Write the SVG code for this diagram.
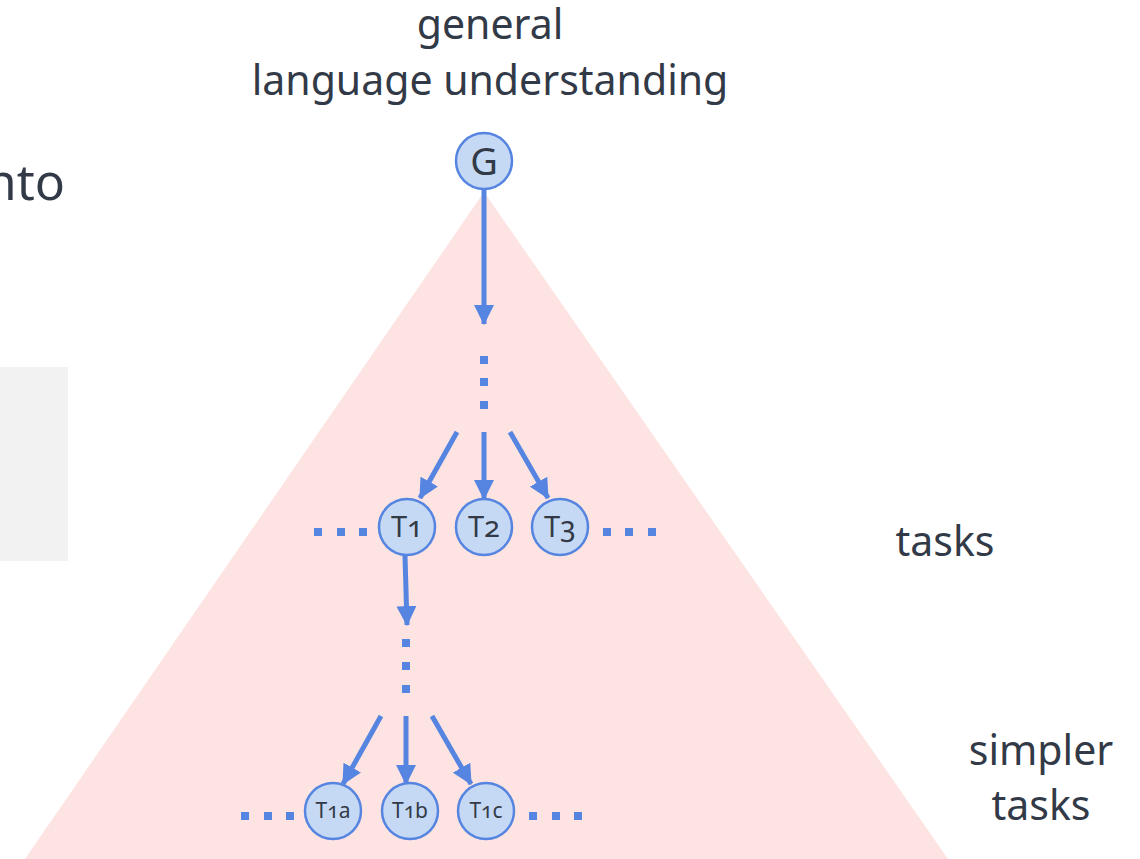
<svg xmlns="http://www.w3.org/2000/svg" width="1140" height="859" viewBox="0 0 1140 859">
  <style>
    .lbl { font-family: "Noto Sans", "Open Sans", sans-serif; fill: #323a47; }
    .node circle { fill: #c6d9f4; stroke: #5585e0; stroke-width: 2.5; }
    .node text { font-family: "Noto Sans", "Open Sans", sans-serif; fill: #323a47; text-anchor: middle; font-variant-numeric: oldstyle-nums; }
    .edge { stroke: #5585e0; stroke-width: 5; fill: none; marker-end: url(#head); }
    .dot { fill: #5585e0; }
  </style>
  <defs>
    <marker id="head" markerUnits="userSpaceOnUse" markerWidth="20" markerHeight="20" viewBox="0 0 18 18" refX="17" refY="9" orient="auto">
      <path d="M0,0 L18,9 L0,18 Z" fill="#5585e0"/>
    </marker>
  </defs>

  <!-- background shapes -->
  <rect x="0" y="367" width="68" height="194" fill="#f2f2f2"/>
  <polygon points="484,192 948,859 25,859" fill="#fde3e1"/>

  <!-- labels -->
  <text class="lbl" x="65" y="200" font-size="50" text-anchor="end">nto</text>
  <text class="lbl" x="490" y="39" font-size="41" text-anchor="middle">general</text>
  <text class="lbl" x="490" y="95" font-size="41" text-anchor="middle">language understanding</text>
  <text class="lbl" x="945" y="556" font-size="41" text-anchor="middle">tasks</text>
  <text class="lbl" x="1041" y="765" font-size="41" text-anchor="middle">simpler</text>
  <text class="lbl" x="1041" y="820" font-size="41" text-anchor="middle">tasks</text>

  <!-- connectors -->
  <g id="connectors">
    <line class="edge" x1="484" y1="190" x2="484" y2="324"/>
    <line class="edge" x1="457" y1="432" x2="420" y2="498"/>
    <line class="edge" x1="484" y1="432" x2="484" y2="499"/>
    <line class="edge" x1="510" y1="432" x2="548" y2="498"/>
    <line class="edge" x1="405" y1="556" x2="407" y2="625"/>
    <line class="edge" x1="381" y1="716" x2="343" y2="784"/>
    <line class="edge" x1="406" y1="716" x2="406" y2="784"/>
    <line class="edge" x1="432" y1="716" x2="471" y2="784"/>
  </g>

  <!-- ellipsis dots -->
  <g id="dots">
    <rect class="dot" x="480" y="356" width="8" height="8"/>
    <rect class="dot" x="480" y="378" width="8" height="8"/>
    <rect class="dot" x="480" y="401" width="8" height="8"/>
    <rect class="dot" x="314" y="528" width="8" height="8"/>
    <rect class="dot" x="337" y="528" width="8" height="8"/>
    <rect class="dot" x="359" y="528" width="8" height="8"/>
    <rect class="dot" x="603" y="528" width="8" height="8"/>
    <rect class="dot" x="625" y="528" width="8" height="8"/>
    <rect class="dot" x="648" y="528" width="8" height="8"/>
    <rect class="dot" x="402" y="639" width="8" height="8"/>
    <rect class="dot" x="402" y="662" width="8" height="8"/>
    <rect class="dot" x="402" y="685" width="8" height="8"/>
    <rect class="dot" x="241" y="812" width="8" height="8"/>
    <rect class="dot" x="264" y="812" width="8" height="8"/>
    <rect class="dot" x="286" y="812" width="8" height="8"/>
    <rect class="dot" x="529" y="812" width="8" height="8"/>
    <rect class="dot" x="552" y="812" width="8" height="8"/>
    <rect class="dot" x="574" y="812" width="8" height="8"/>
  </g>

  <!-- nodes -->
  <g id="G" class="node">
    <circle cx="484" cy="161" r="28"/>
    <text x="484" y="175" font-size="38">G</text>
  </g>
  <g id="T1" class="node">
    <circle cx="407" cy="527" r="28"/>
    <text x="407" y="537" font-size="29">T1</text>
  </g>
  <g id="T2" class="node">
    <circle cx="484" cy="527" r="28"/>
    <text x="484" y="537" font-size="29">T2</text>
  </g>
  <g id="T3" class="node">
    <circle cx="560" cy="527" r="28"/>
    <text x="560" y="537" font-size="29">T3</text>
  </g>
  <g id="T1a" class="node">
    <circle cx="333" cy="811" r="28"/>
    <text x="333" y="818" font-size="21">T1a</text>
  </g>
  <g id="T1b" class="node">
    <circle cx="410" cy="811" r="28"/>
    <text x="410" y="818" font-size="21">T1b</text>
  </g>
  <g id="T1c" class="node">
    <circle cx="486" cy="811" r="28"/>
    <text x="486" y="818" font-size="21">T1c</text>
  </g>
</svg>
